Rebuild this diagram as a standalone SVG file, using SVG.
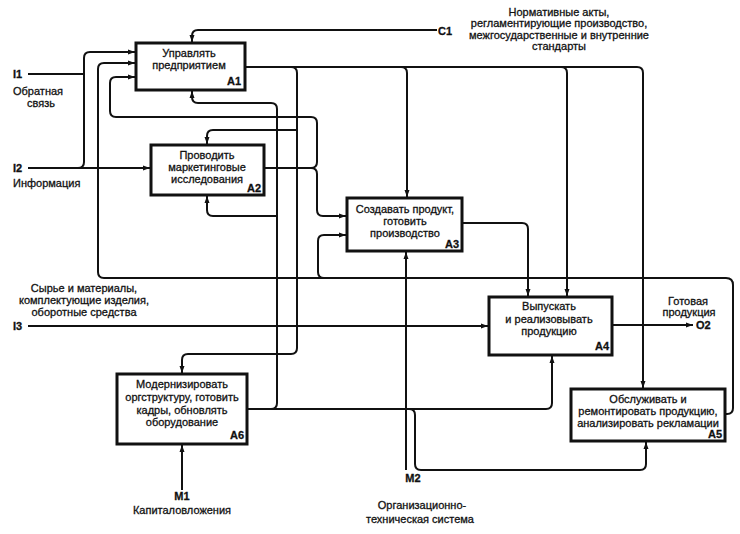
<svg xmlns="http://www.w3.org/2000/svg" width="740" height="534" viewBox="0 0 740 534">
<defs>
<marker id="ah" markerUnits="userSpaceOnUse" markerWidth="8" markerHeight="6" refX="7" refY="3" orient="auto">
<path d="M0,0.5 L7,3 L0,5.5 z" fill="#111"/>
</marker>
<style>
text{font-family:"Liberation Sans",Arial,sans-serif;font-size:11px;fill:#111;stroke:#111;stroke-width:0.3}
.c{text-anchor:middle}
.r{text-anchor:end;font-weight:bold}
.b{font-weight:bold}
.box{fill:#fff;stroke:#111;stroke-width:3}
.cn path{fill:none;stroke:#111;stroke-width:2}
.cn path.a{marker-end:url(#ah)}
</style>
</defs>
<rect width="740" height="534" fill="#fff"/>
<g class="cn" id="connectors">
<path class="a" d="M437 30 H198 Q192 30 192 36 V42"/>
<path d="M28 74 H84"/>
<path class="a" d="M28 168 H150"/>
<path class="a" d="M78 168 Q84 168 84 162 V58 Q84 52 90 52 H135"/>
<path class="a" d="M725 414 H727 Q733 414 733 408 V285 Q733 278 726 278 H104 Q98 278 98 272 V69 Q98 63 104 63 H135"/>
<path class="a" d="M324 278 Q318 278 318 272 V241 Q318 235 324 235 H346"/>
<path class="a" d="M264 168 H311 Q317 168 317 162 V123 Q317 117 311 117 H116 Q110 117 110 111 V83 Q110 77 116 77 H135"/>
<path class="a" d="M311 168 Q317 168 317 174 V210 Q317 216 323 216 H346"/>
<path class="a" d="M245 67 H637 Q643 67 643 73 V388"/>
<path class="a" d="M291 67 Q297 67 297 73 V348 Q297 354 291 354 H188 Q182 354 182 360 V373"/>
<path class="a" d="M297 130 H213 Q207 130 207 136 V144"/>
<path class="a" d="M401 67 Q407 67 407 73 V197"/>
<path class="a" d="M561 67 Q567 67 567 73 V296"/>
<path class="a" d="M247 409 H546 Q552 409 552 403 V356"/>
<path class="a" d="M271 409 Q277 409 277 403 V109 Q277 103 271 103 H198 Q192 103 192 97 V91"/>
<path class="a" d="M277 216 H213 Q207 216 207 210 V196"/>
<path class="a" d="M409 409 Q415 409 415 415 V464 Q415 470 421 470 H640 Q646 470 646 464 V442"/>
<path class="a" d="M406 470 V252"/>
<path class="a" d="M182 490 V445"/>
<path class="a" d="M28 326 H488"/>
<path class="a" d="M462 223 H522 Q528 223 528 229 V296"/>
<path class="a" d="M612 325 H693"/>
</g>
<g id="A1">
<rect class="box" x="136" y="43" width="109" height="47"/>
<text class="c" x="189" y="57">Управлять</text>
<text class="c" x="189" y="69">предприятием</text>
<text class="r" x="241" y="85">A1</text>
</g>
<g id="A2">
<rect class="box" x="151" y="145" width="113" height="50"/>
<text class="c" x="207" y="159">Проводить</text>
<text class="c" x="207" y="171">маркетинговые</text>
<text class="c" x="207" y="183">исследования</text>
<text class="r" x="261" y="192">A2</text>
</g>
<g id="A3">
<rect class="box" x="347" y="198" width="115" height="53"/>
<text class="c" x="405" y="213">Создавать продукт,</text>
<text class="c" x="405" y="225">готовить</text>
<text class="c" x="405" y="237">производство</text>
<text class="r" x="459" y="248">A3</text>
</g>
<g id="A4">
<rect class="box" x="489" y="297" width="123" height="58"/>
<text class="c" x="549" y="310">Выпускать</text>
<text class="c" x="549" y="323">и реализовывать</text>
<text class="c" x="549" y="335">продукцию</text>
<text class="r" x="609" y="350">A4</text>
</g>
<g id="A5">
<rect class="box" x="571" y="389" width="154" height="52"/>
<text class="c" x="648" y="403">Обслуживать и</text>
<text class="c" x="648" y="415">ремонтировать продукцию,</text>
<text class="c" x="648" y="427">анализировать рекламации</text>
<text class="r" x="722" y="438">A5</text>
</g>
<g id="A6">
<rect class="box" x="117" y="374" width="130" height="70"/>
<text class="c" x="182" y="388">Модернизировать</text>
<text class="c" x="182" y="401">оргструктуру, готовить</text>
<text class="c" x="182" y="414">кадры, обновлять</text>
<text class="c" x="182" y="426">оборудование</text>
<text class="r" x="244" y="439">A6</text>
</g>
<g id="labels">
<text class="b" x="13" y="78">I1</text>
<text x="13" y="95">Обратная</text>
<text x="27" y="107">связь</text>
<text class="b" x="13" y="172">I2</text>
<text x="13" y="187">Информация</text>
<text class="c" x="84" y="292">Сырье и материалы,</text>
<text class="c" x="84" y="304">комплектующие изделия,</text>
<text class="c" x="84" y="316">оборотные средства</text>
<text class="b" x="13" y="330">I3</text>
<text class="b" x="438" y="35">C1</text>
<text class="c" x="559" y="16">Нормативные акты,</text>
<text class="c" x="559" y="27">регламентирующие производство,</text>
<text class="c" x="559" y="39">межгосударственные и внутренние</text>
<text class="c" x="559" y="50">стандарты</text>
<text class="c" x="688" y="305">Готовая</text>
<text class="c" x="689" y="316">продукция</text>
<text class="b" x="696" y="329">O2</text>
<text class="c b" x="182" y="500">M1</text>
<text class="c" x="182" y="514">Капиталовложения</text>
<text class="c b" x="413" y="482">M2</text>
<text class="c" x="422" y="509">Организационно-</text>
<text class="c" x="420" y="523">техническая система</text>
</g>
</svg>
